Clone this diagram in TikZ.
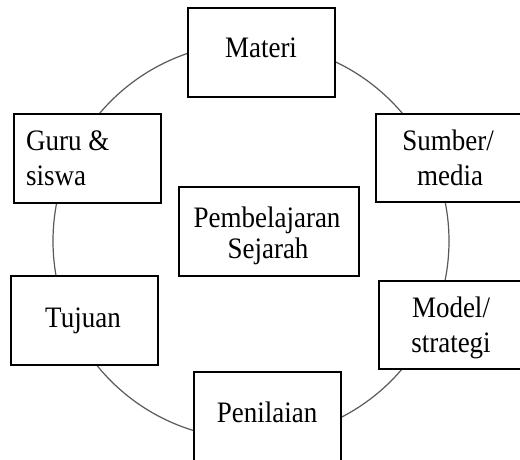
\documentclass[tikz,border=0pt]{standalone}
\usepackage{fontspec}
\setmainfont{Liberation Serif}
\tikzset{
  box/.style={draw=black, line width=1.5pt, fill=white, rectangle, inner sep=0pt},
  ring/.style={draw=black!65, line width=1.2pt, circle, inner sep=0pt},
  txt/.style={anchor=base, inner sep=0pt, font=\fontsize{27}{32}\selectfont},
  txtl/.style={anchor=base west, inner sep=0pt, font=\fontsize{27}{32}\selectfont}
}
\newcommand{\tstretch}[1]{\scalebox{1}[1.1]{#1}}
\begin{document}
\begin{tikzpicture}[x=1pt, y=-1pt]
\useasboundingbox[fill=white] (0,0) rectangle (520,459);
\node[ring, minimum size=396pt] (ring) at (251,241) {};
% boxes
\node[box, minimum width=147pt, minimum height=89pt] (materi) at (261.5,52.5) {};
\node[box, minimum width=147pt, minimum height=89pt] (guru) at (87.5,158.5) {};
\node[box, minimum width=150pt, minimum height=88pt] (sumber) at (451,158) {};
\node[box, minimum width=180pt, minimum height=89pt] (pemb) at (269,231.5) {};
\node[box, minimum width=147pt, minimum height=89pt] (tujuan) at (84.5,320.5) {};
\node[box, minimum width=146pt, minimum height=88pt] (model) at (452,325) {};
\node[box, minimum width=147pt, minimum height=90pt] (penilaian) at (267.5,417) {};
% texts
\node[txt] (materiT) at (261,57) {\tstretch{Materi}};
\node[txtl] (guruT1) at (26,150) {\tstretch{Guru \&}};
\node[txtl] (guruT2) at (26,185) {\tstretch{siswa}};
\node[txt] (sumberT1) at (448,150) {\tstretch{Sumber/}};
\node[txt] (sumberT2) at (450,185) {\tstretch{media}};
\node[txt] (pembT1) at (267,227) {\tstretch{Pembelajaran}};
\node[txt] (pembT2) at (268,258) {\tstretch{Sejarah}};
\node[txt] (tujuanT) at (83,327) {\tstretch{Tujuan}};
\node[txt] (modelT1) at (451,317) {\tstretch{Model/}};
\node[txt] (modelT2) at (451,352) {\tstretch{strategi}};
\node[txt] (penilaianT) at (267,422) {\tstretch{Penilaian}};
\end{tikzpicture}
\end{document}
